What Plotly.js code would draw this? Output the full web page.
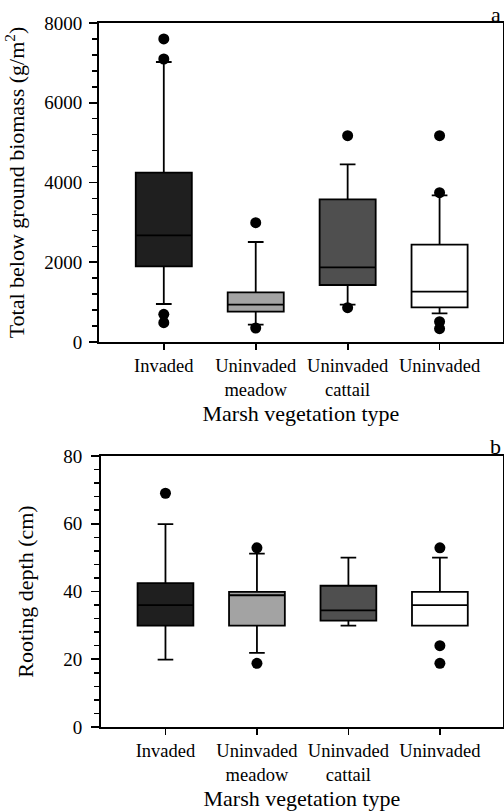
<!DOCTYPE html>
<html>
<head>
<meta charset="utf-8">
<script src="https://cdn.plot.ly/plotly-3.0.1.min.js"></script>
<style>html,body{margin:0;padding:0;background:#fff;}#chart{width:504px;height:812px;}</style>
</head>
<body>
<div id="chart"></div>
<script>
// Categories and tick labels
const categories = ["Invaded", "Uninvaded meadow", "Uninvaded cattail", "Uninvaded"];
const tickLabels = ["Invaded", "Uninvaded<br>meadow", "Uninvaded<br>cattail", "Uninvaded"];
const boxColors = ["#1f1f1f", "#a3a3a3", "#4f4f4f", "#ffffff"];

// Panel a: total below ground biomass (g/m2)
const bioLowerFence = [953, 434, 936, 720];
const bioQ1 = [1898, 760, 1429, 870];
const bioMedian = [2676, 936, 1873, 1262];
const bioQ3 = [4246, 1246, 3579, 2441];
const bioUpperFence = [7022, 2508, 4456, 3679];
const bioOutliers = [
  [7600, 7097, 694, 484],
  [2992, 351],
  [5174, 860],
  [5174, 3746, 509, 333]
];

// Panel b: rooting depth (cm)
const depLowerFence = [19.9, 21.9, 29.9, 29.9];
const depQ1 = [29.9, 29.9, 31.4, 29.9];
const depMedian = [36.0, 38.9, 34.4, 36.0];
const depQ3 = [42.5, 39.9, 41.7, 39.9];
const depUpperFence = [59.9, 51.2, 50.0, 50.0];
const depOutliers = [
  [69.0],
  [52.9, 18.8],
  [],
  [52.9, 24.0, 18.8]
];

const positions = categories.map((c, i) => i);
const traces = [];

function addPanel(xa, ya, lf, q1, med, q3, uf, outs) {
  categories.forEach((c, i) => {
    traces.push({
      type: 'box', xaxis: xa, yaxis: ya, name: c,
      x: [positions[i]], q1: [q1[i]], median: [med[i]], q3: [q3[i]],
      lowerfence: [lf[i]], upperfence: [uf[i]],
      width: 0.61, whiskerwidth: 0.28,
      fillcolor: boxColors[i],
      line: {color: '#000', width: 1.8},
      boxpoints: false, showlegend: false, hoverinfo: 'skip'
    });
    if (outs[i].length) {
      traces.push({
        type: 'scatter', mode: 'markers', xaxis: xa, yaxis: ya,
        x: outs[i].map(() => positions[i]), y: outs[i],
        marker: {color: '#000', size: 11},
        showlegend: false, hoverinfo: 'skip'
      });
    }
  });
}
addPanel('x', 'y', bioLowerFence, bioQ1, bioMedian, bioQ3, bioUpperFence, bioOutliers);
addPanel('x2', 'y2', depLowerFence, depQ1, depMedian, depQ3, depUpperFence, depOutliers);

const font = {family: 'Liberation Serif, serif', color: '#000'};
const H = 812, W = 504;

function xAxis(domainLeft) {
  return {
    domain: [domainLeft, 1],
    range: [-0.707, 3.69],
    tickmode: 'array', tickvals: positions, ticktext: tickLabels,
    ticks: 'outside', ticklen: 6, tickwidth: 1.8, tickcolor: '#000',
    showline: true, linewidth: 1.8, linecolor: '#000', mirror: true,
    showgrid: false, zeroline: false,
    tickfont: Object.assign({size: 18.5}, font),
    title: {text: 'Marsh vegetation type', font: Object.assign({size: 22}, font), standoff: 6}
  };
}
function yAxis(domain, range, dtick, minorDtick, titleText, standoff, labelStandoff) {
  return {
    domain: domain, range: range,
    dtick: dtick, tick0: 0,
    ticks: 'outside', ticklen: 8, tickwidth: 1.8, tickcolor: '#000',
    minor: {dtick: minorDtick, tick0: 0, ticks: 'outside', ticklen: 5, tickwidth: 1.5, tickcolor: '#000', showgrid: false},
    showline: true, linewidth: 1.8, linecolor: '#000', mirror: true,
    showgrid: false, zeroline: false,
    ticklabelstandoff: labelStandoff,
    tickfont: Object.assign({size: 19}, font),
    title: {text: titleText, font: Object.assign({size: 22}, font), standoff: standoff}
  };
}

const layout = {
  width: W, height: H,
  margin: {l: 0, r: 1, t: 0, b: 0},
  paper_bgcolor: '#fff', plot_bgcolor: '#fff',
  boxmode: 'overlay',
  font: font,
  xaxis: Object.assign(xAxis(99 / W), {anchor: 'y'}),
  yaxis: Object.assign(yAxis([1 - 342 / H, 1 - 23 / H], [0, 8000], 2000, 400, 'Total below ground biomass (g/m<sup>2</sup>)', 13, 3), {anchor: 'x'}),
  xaxis2: Object.assign(xAxis(101 / W), {anchor: 'y2'}),
  yaxis2: Object.assign(yAxis([1 - 727 / H, 1 - 456 / H], [0, 80], 20, 4, 'Rooting depth (cm)', 23, 5), {anchor: 'x2'}),
  annotations: [
    {text: 'a', xref: 'paper', yref: 'paper', x: 1, y: 1 - 14 / H, xanchor: 'right', yanchor: 'middle', showarrow: false, font: Object.assign({size: 22}, font)},
    {text: 'b', xref: 'paper', yref: 'paper', x: 1, y: 1 - 446 / H, xanchor: 'right', yanchor: 'middle', showarrow: false, font: Object.assign({size: 22}, font)}
  ]
};

Plotly.newPlot('chart', traces, layout, {staticPlot: true, displayModeBar: false});
</script>
</body>
</html>
